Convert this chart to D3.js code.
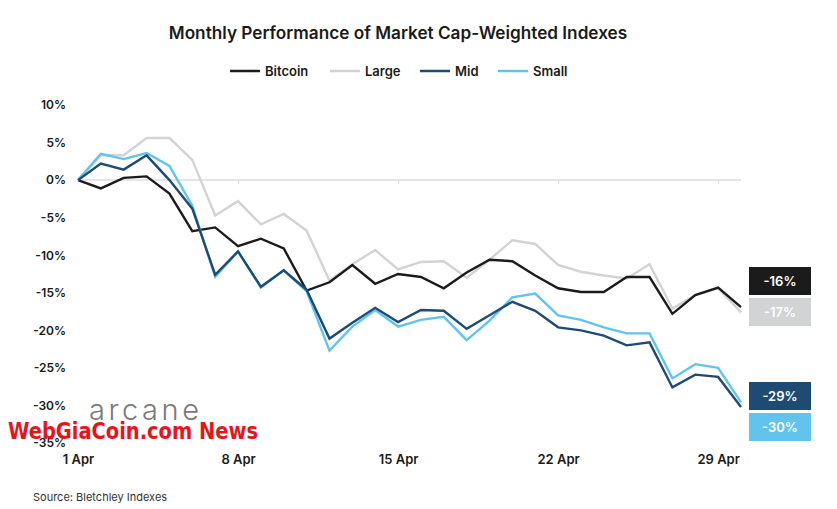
<!DOCTYPE html>
<html><head><meta charset="utf-8">
<script src="https://cdn.jsdelivr.net/npm/d3@7"></script>
<style>
body{margin:0;background:#fff;}
svg{display:block;font-family:Inter,"Noto Sans",sans-serif;}
</style></head>
<body><svg id="c" width="837" height="509"></svg>
<script>
const days = d3.range(1, 31);
const bitcoin = [0,-1.1,0.3,0.5,-1.8,-6.8,-6.3,-8.8,-7.8,-9.1,-14.7,-13.6,-11.3,-13.8,-12.5,-12.9,-14.4,-12.3,-10.6,-10.8,-12.7,-14.4,-14.9,-14.9,-12.9,-12.9,-17.8,-15.3,-14.3,-16.9];
const large   = [0,3.3,3.3,5.6,5.6,2.7,-4.7,-2.8,-5.9,-4.5,-6.7,-13.4,-11.2,-9.3,-11.9,-10.9,-10.8,-13.0,-10.6,-8.0,-8.5,-11.3,-12.2,-12.7,-13.1,-11.2,-17.1,-15.3,-14.4,-17.6];
const mid     = [0,2.2,1.4,3.3,0.0,-3.8,-12.6,-9.5,-14.2,-12.0,-14.6,-21.1,-19.0,-17.0,-18.9,-17.3,-17.4,-19.8,-18.0,-16.2,-17.4,-19.6,-20.0,-20.7,-22.0,-21.6,-27.6,-25.9,-26.2,-30.2];
const small   = [0,3.5,2.8,3.6,1.9,-3.4,-12.9,-9.5,-14.3,-12.0,-14.8,-22.7,-19.5,-17.3,-19.5,-18.6,-18.2,-21.3,-18.7,-15.6,-15.1,-18.0,-18.6,-19.6,-20.4,-20.4,-26.4,-24.5,-25.0,-29.6];
const seriesNames = ["Bitcoin","Large","Mid","Small"];
const colors = ["#1b1b1b","#d2d3d5","#1d4b74","#62c4ec"];
const endLabels = ["-16%","-17%","-29%","-30%"];
const yTicks = [10,5,0,-5,-10,-15,-20,-25,-30,-35];
const xTicks = [1,8,15,22,29];
const xTickLabels = ["1 Apr","8 Apr","15 Apr","22 Apr","29 Apr"];
const seriesData = [bitcoin, large, mid, small];

const svg = d3.select("#c");
const x = d3.scaleLinear().domain([1,30]).range([78,741]);
const y = d3.scaleLinear().domain([-35,10]).range([443,105]);

svg.append("text").attr("x",398).attr("y",39).attr("text-anchor","middle")
  .attr("font-size",17.2).attr("font-weight",600).attr("fill","#1a1a1a")
  .text("Monthly Performance of Market Cap-Weighted Indexes");

// legend
const legX = [230,330,420,498];
seriesNames.forEach((n,i)=>{
  const g = svg.append("g").attr("transform",`translate(${legX[i]},71)`);
  g.append("line").attr("x1",0).attr("x2",30).attr("y1",0).attr("y2",0)
    .attr("stroke",colors[i]).attr("stroke-width",2.5);
  g.append("text").attr("x",35).attr("y",5).attr("font-size",13).attr("font-weight",600)
    .attr("fill","#1a1a1a").text(n);
});

// y axis labels
const yAxis = d3.axisLeft(y).tickValues(yTicks).tickSize(0).tickFormat(d=>d+"%");
const ya = svg.append("g").attr("transform","translate(66,0)").call(yAxis);
ya.select(".domain").remove();
ya.selectAll("text").attr("font-size",12).attr("font-weight",600).attr("fill","#1a1a1a")
  .attr("font-family","Inter,'Noto Sans',sans-serif").attr("dx",3);

// zero line with ticks
const xa = svg.append("g").attr("transform",`translate(0,${y(0)})`)
  .call(d3.axisBottom(x).tickValues(xTicks.slice(1)).tickSize(4).tickFormat(""));
xa.select(".domain").attr("stroke","#dcdcdc").attr("stroke-width",1.5).attr("d",`M${x(1)},0H${x(30)}`);
xa.selectAll(".tick line").attr("stroke","#dcdcdc");

// x labels
const xl = svg.append("g").attr("transform","translate(0,443)")
  .call(d3.axisBottom(x).tickValues(xTicks).tickSize(0).tickFormat((d,i)=>xTickLabels[i]));
xl.select(".domain").remove();
xl.selectAll("text").attr("font-size",13).attr("font-weight",600).attr("fill","#1a1a1a")
  .attr("font-family","Inter,'Noto Sans',sans-serif").attr("dy","1.35em");

// lines
const line = d3.line().x((d,i)=>x(days[i])).y(d=>y(d));
[1,0,3,2].forEach(i=>{
  svg.append("path").datum(seriesData[i]).attr("d",line).attr("fill","none")
    .attr("stroke",colors[i]).attr("stroke-width",2.4).attr("stroke-linejoin","miter");
});

// end labels
const boxY = [267,298,382,413];
endLabels.forEach((t,i)=>{
  svg.append("rect").attr("x",749).attr("y",boxY[i]).attr("width",62).attr("height",28).attr("fill",colors[i]);
  svg.append("text").attr("x",780).attr("y",boxY[i]+19).attr("text-anchor","middle")
    .attr("font-size",13).attr("font-weight",600).attr("fill","#fff").text(t);
});

// logo & watermark
svg.append("text").attr("x",89).attr("y",420).attr("font-size",29).attr("font-weight",300)
  .attr("fill","#7a7a7a").attr("textLength",110).attr("lengthAdjust","spacing").text("arcane");
svg.append("text").attr("x",8).attr("y",439).attr("font-size",23).attr("font-weight",700)
  .attr("font-family","'Liberation Sans Narrow','DejaVu Sans Condensed',sans-serif")
  .attr("textLength",250).attr("lengthAdjust","spacingAndGlyphs")
  .attr("fill","#e8141a").text("WebGiaCoin.com News");

svg.append("text").attr("x",33).attr("y",501).attr("font-size",11).attr("fill","#333")
  .text("Source: Bletchley Indexes");
</script></body></html>
